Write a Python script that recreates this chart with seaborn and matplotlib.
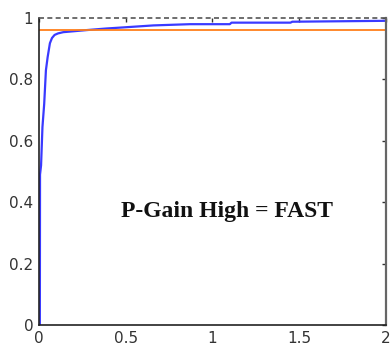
import matplotlib
matplotlib.use("Agg")
import matplotlib.pyplot as plt
import seaborn as sns
import pandas as pd

# Step response
t = [0.0, 0.005, 0.006, 0.012, 0.02, 0.03, 0.04, 0.05, 0.063, 0.075, 0.09, 0.11, 0.14,
     0.2, 0.28, 0.39, 0.5, 0.66, 0.87, 0.93, 1.10, 1.11, 1.45, 1.46, 2.0]
y = [0.0, 0.0, 0.49, 0.52, 0.645, 0.72, 0.83, 0.873, 0.918, 0.935, 0.945, 0.950, 0.954,
     0.957, 0.961, 0.966, 0.970, 0.976, 0.980, 0.980, 0.980, 0.985, 0.985, 0.988, 0.991]
ref_level = 0.962
setpoint = 1.0
annotation = "P-Gain High = FAST"
xticks = [0, 0.5, 1, 1.5, 2]
xticklabels = ["0", "0.5", "1", "1.5", "2"]
yticks = [0, 0.2, 0.4, 0.6, 0.8, 1]
yticklabels = ["0", "0.2", "0.4", "0.6", "0.8", "1"]

sns.set_style("white")
plt.rcParams["font.family"] = ["DejaVu Sans"]

fig = plt.figure(figsize=(3.91, 3.47), dpi=100)
ax = fig.add_axes([0.0997, 0.0634, 0.8873, 0.8846])

df = pd.DataFrame({"t": t, "y": y})
sns.lineplot(data=df, x="t", y="y", ax=ax, color="#3a3aff", linewidth=1.6,
             estimator=None, sort=False)
ax.axhline(ref_level, color="#ff7f1a", linewidth=1.3)
ax.axhline(setpoint, color="#555555", linewidth=1.2, linestyle=(0, (3, 2)),
           zorder=5, clip_on=False)

ax.set_xlim(0, 2)
ax.set_ylim(0, 1)
ax.set_xticks(xticks)
ax.set_xticklabels(xticklabels)
ax.set_yticks(yticks)
ax.set_yticklabels(yticklabels)
ax.set_xlabel("")
ax.set_ylabel("")
ax.tick_params(direction="in", length=3, width=1, labelsize=11,
               top=True, right=True, colors="#333333", pad=4)
for s in ["left", "bottom", "right"]:
    ax.spines[s].set_visible(True)
    ax.spines[s].set_color("#222222")
    ax.spines[s].set_linewidth(1.2)
ax.spines["right"].set_color("#666666")
ax.spines["right"].set_linewidth(1.6)
ax.spines["top"].set_visible(False)

ax.text(1.086, 0.371, annotation, ha="center", va="center",
        fontsize=17, fontweight="bold", family=["Liberation Serif"],
        color="#111111")

fig.savefig("out.png", dpi=100)
